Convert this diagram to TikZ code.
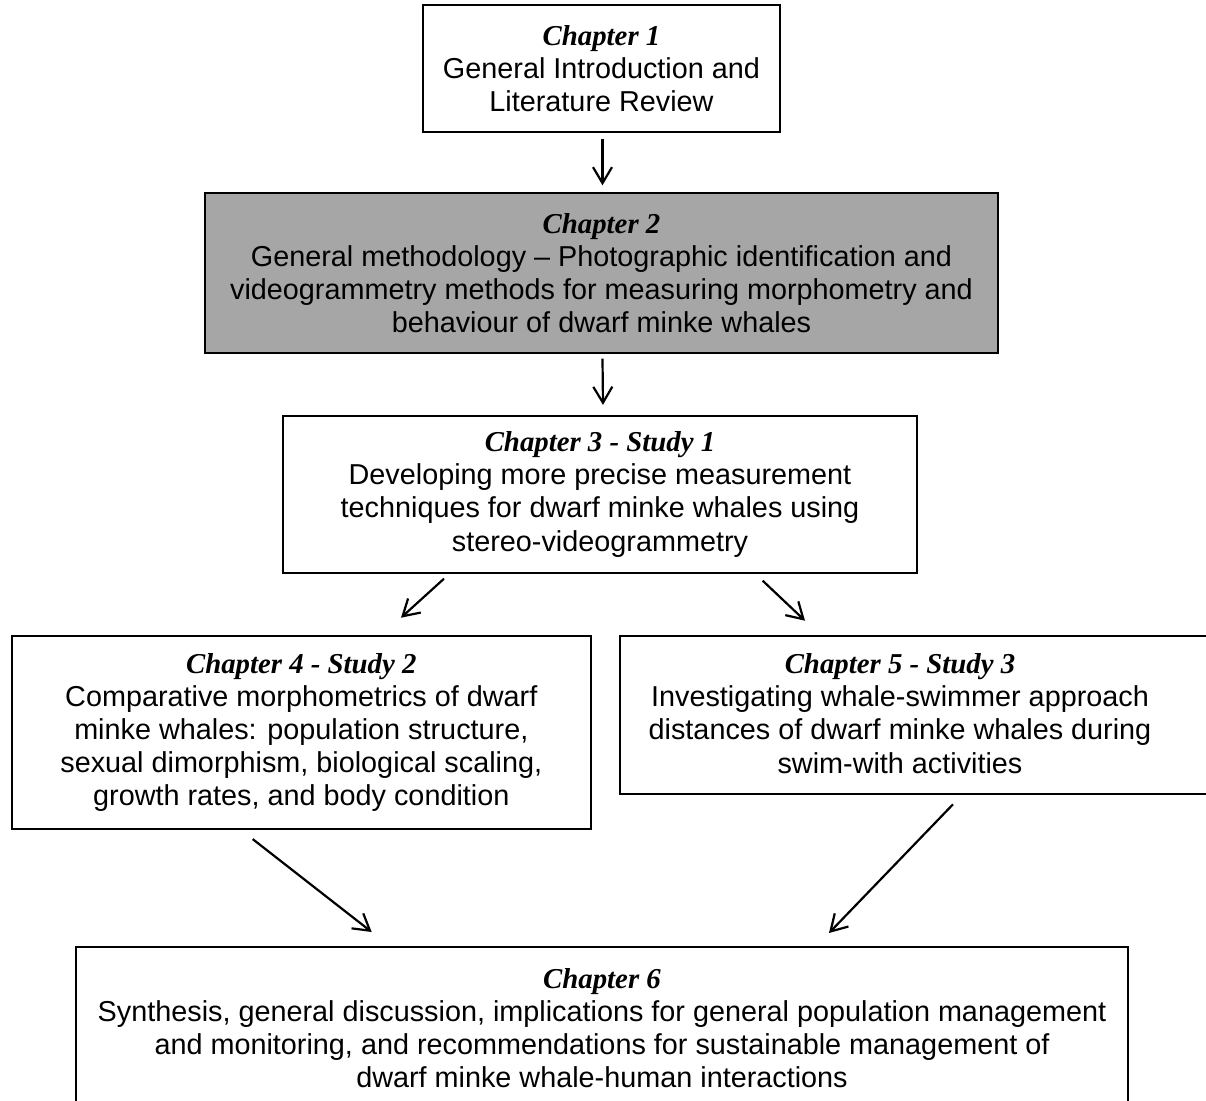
\documentclass[tikz,border=0pt]{standalone}
\usepackage{fontspec}
\setmainfont{Liberation Sans}
\newfontfamily\titlefont{Liberation Serif}
\usetikzlibrary{arrows.meta,calc,positioning}

\newcommand{\chap}[1]{{\titlefont\bfseries\itshape #1}}

\begin{document}
\begin{tikzpicture}[x=0.5pt, y=-0.5pt,
    chapterBox/.style={draw=black, line width=1pt, fill=white, inner sep=0pt, align=center,
        font=\fontsize{14.4}{16.6}\selectfont},
    chapterText/.style={inner sep=0pt, align=center, font=\fontsize{14.4}{16.6}\selectfont},
    flowArrow/.style={line width=1.1pt, -{Straight Barb[length=8pt, width=9.5pt, line width=1.1pt]}},
  ]

    \colorlet{boxgray}{black!35}

    \useasboundingbox (0,0) rectangle (1206,1100);

    %draw the chapter boxes
    \node[chapterBox, minimum width=178.5pt, minimum height=63.5pt] (ch1) at (601.5,68.5)
        {\chap{Chapter 1}\\General Introduction and\\Literature Review};

    \node[chapterBox, fill=boxgray, minimum width=396.5pt, minimum height=79.7pt] (ch2) at (601.5,273)
        {\chap{Chapter 2}\\General methodology -- Photographic identification and\\videogrammetry methods for measuring morphometry and\\behaviour of dwarf minke whales};

    \node[chapterBox, minimum width=317pt, minimum height=78.4pt] (ch3) at (600,494.3)
        {\chap{Chapter 3 - Study 1}\\Developing more precise measurement\\techniques for dwarf minke whales using\\stereo-videogrammetry};

    \node[chapterBox, minimum width=289.7pt, minimum height=96.7pt] (ch4) at (301.3,732.4)
        {\chap{Chapter 4 - Study 2}\\Comparative morphometrics of dwarf\\minke whales: population structure,\\sexual dimorphism, biological scaling,\\growth rates, and body condition};

    %box 5 runs off the right edge, so its text sits on its own
    \node[chapterBox, minimum width=297.5pt, minimum height=79.3pt] (ch5) at (917.5,715) {};
    \node[chapterText] (ch5text) at (900,713.5)
        {\chap{Chapter 5 - Study 3}\\Investigating whale-swimmer approach\\distances of dwarf minke whales during\\swim-with activities};

    \node[chapterBox, minimum width=526pt, minimum height=81pt] (ch6) at (602,1028)
        {\chap{Chapter 6}\\Synthesis, general discussion, implications for general population management\\and monitoring, and recommendations for sustainable management of\\dwarf minke whale-human interactions};

    %draw the arrows
    \draw[flowArrow] ($(ch1.south)+(1,6)$) -- ($(ch2.north)+(1,-7)$);
    \draw[flowArrow] ($(ch2.south)+(1,5)$) -- ($(ch3.north)+(3,-10)$);
    \draw[flowArrow] ($(ch3.south)+(-156,5)$) -- ($(ch4.north)+(99.7,-17)$);
    \draw[flowArrow] ($(ch3.south)+(162.7,7)$) -- ($(ch5.north west)+(186,-14)$);
    \draw[flowArrow] ($(ch4.south)+(-48.6,9)$) -- ($(ch6.north)+(-230.3,-14)$);
    \draw[flowArrow] ($(ch5.south west)+(334,9)$) -- ($(ch6.north)+(227,-13)$);

\end{tikzpicture}
\end{document}
